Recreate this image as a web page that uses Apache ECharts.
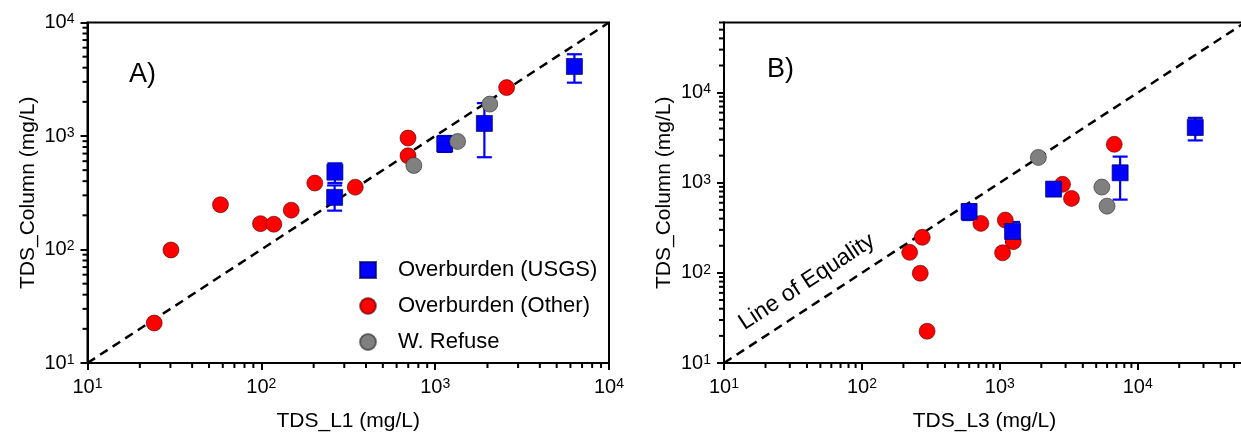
<!DOCTYPE html>
<html>
<head>
<meta charset="utf-8">
<script src="https://cdn.jsdelivr.net/npm/echarts@6/dist/echarts.min.js"></script>
<style>
  html, body { margin: 0; padding: 0; width: 1241px; height: 437px; overflow: hidden; background: #fff; }
  #chart { width: 1250px; height: 437px; }
</style>
</head>
<body>
<div id="chart"></div>
<script>
// TDS of overburden / refuse samples: column leachate vs. first (L1) and third (L3) leach step, mg/L
const seriesNames = ['Overburden (USGS)', 'Overburden (Other)', 'W. Refuse'];

// Overburden (USGS): column value with min / max range
const usgsColumn = [480, 288, 850, 1290, 4100];
const usgsLow    = [386, 220, 724, 650, 2950];
const usgsHigh   = [574, 367, 1000, 1950, 5250];
const usgsL1     = [265, 264, 1135, 1919, 6324];
const usgsL3     = [599, 1238, 2455, 7459, 26150];

// Overburden (Other)
const otherColumn = [22.5, 99, 248, 169, 167, 222, 385, 354, 960, 670, 2670];
const otherL1     = [24.2, 30.2, 58.2, 98.9, 118, 148.6, 203, 347, 698, 698, 2576];
const otherL3     = [297, 265, 274, 222, 1047, 1252, 1096, 729, 2851, 3311, 6761];

// W. Refuse
const refuseColumn = [550, 895, 1910];
const refuseL1     = [754, 1346, 2061];
const refuseL3     = [5995, 5495, 1905];

// Axis ranges and tick values
const rangeA = [10, 10000];
const rangeB = [10, 60000];
const majorTicksA = [10, 100, 1000, 10000];
const majorTicksB = [10, 100, 1000, 10000];
const minorTicksA = [20, 30, 40, 50, 60, 70, 80, 90, 200, 300, 400, 500, 600, 700, 800, 900,
                     2000, 3000, 4000, 5000, 6000, 7000, 8000, 9000];
const minorTicksB = [20, 30, 40, 50, 60, 70, 80, 90, 200, 300, 400, 500, 600, 700, 800, 900,
                     2000, 3000, 4000, 5000, 6000, 7000, 8000, 9000, 20000, 30000, 40000, 50000, 60000];

const FONT = '"Liberation Sans", Arial, sans-serif';
const BLUE = '#0000ff', RED = '#ff0000', GREY = '#808080';

const zip = (xs, ys) => xs.map((x, i) => [x, ys[i]]);
const zip3 = (xs, a, b) => xs.map((x, i) => [x, a[i], b[i]]);

function powLabel(v) {
  const e = Math.log10(v);
  const r = Math.round(e);
  return Math.abs(e - r) < 1e-6 ? '{b|10}{s|' + r + '}' : '';
}
const labelRich = {
  b: { fontSize: 20, fontFamily: FONT, color: '#000', verticalAlign: 'bottom' },
  s: { fontSize: 14, fontFamily: FONT, color: '#000', verticalAlign: 'top' }
};

function mainAxis(grid, range, ticks, isX, name) {
  return {
    type: 'log', gridIndex: grid, min: range[0], max: range[1],
    position: isX ? 'bottom' : 'left',
    name: name, nameLocation: 'middle', nameGap: isX ? 48 : 49,
    nameTextStyle: { fontSize: 21, fontFamily: FONT, color: '#000' },
    axisLine: { show: true, onZero: false, lineStyle: { color: '#000', width: 2 } },
    axisTick: { show: true, inside: false, length: 7, customValues: ticks, lineStyle: { color: '#000', width: 2 } },
    axisLabel: { customValues: ticks, formatter: powLabel, rich: labelRich, margin: isX ? 14 : 13 },
    splitLine: { show: false }, minorTick: { show: false }
  };
}

// Short outward minor ticks at 2..9 of each decade, placed through the axis scales
function minorTickSeries(idx, range, values, onX) {
  return {
    type: 'custom', name: 'minor ticks', xAxisIndex: idx, yAxisIndex: idx, z: 10,
    clip: false, silent: true,
    encode: { x: 0, y: 1 },
    renderItem: function (params, api) {
      const p = api.coord([api.value(0), api.value(1)]);
      const len = 5;
      const shape = onX ? { x1: p[0], y1: p[1], x2: p[0], y2: p[1] + len }
                        : { x1: p[0] - len, y1: p[1], x2: p[0], y2: p[1] };
      return { type: 'line', shape: shape, style: { stroke: '#000', lineWidth: 2, fill: null } };
    },
    data: values.map(v => onX ? [v, range[0]] : [range[0], v])
  };
}

function errorBars(idx, data) {
  return {
    type: 'custom', name: 'USGS range', xAxisIndex: idx, yAxisIndex: idx, z: 2,
    encode: { x: 0, y: [1, 2] }, silent: true,
    renderItem: function (params, api) {
      const lo = api.coord([api.value(0), api.value(1)]);
      const hi = api.coord([api.value(0), api.value(2)]);
      const w = 7.5;
      const st = { stroke: BLUE, lineWidth: 2.2 };
      return {
        type: 'group', children: [
          { type: 'line', shape: { x1: lo[0], y1: lo[1], x2: hi[0], y2: hi[1] }, style: st },
          { type: 'line', shape: { x1: lo[0] - w, y1: lo[1], x2: lo[0] + w, y2: lo[1] }, style: st },
          { type: 'line', shape: { x1: hi[0] - w, y1: hi[1], x2: hi[0] + w, y2: hi[1] }, style: st }
        ]
      };
    },
    data: data
  };
}
function scatter(name, idx, data, symbol, color, border, z) {
  return {
    type: 'scatter', name: name, xAxisIndex: idx, yAxisIndex: idx, z: z,
    symbol: symbol, symbolSize: 16,
    itemStyle: { color: color, borderColor: border, borderWidth: 1, opacity: 1 },
    emphasis: { disabled: true },
    data: data
  };
}
function equality(idx, range) {
  return {
    type: 'line', name: 'equality', xAxisIndex: idx, yAxisIndex: idx, z: 1,
    showSymbol: false, silent: true, animation: false,
    lineStyle: { color: '#000', width: 2.5, type: [9, 6] },
    data: [[range[0], range[0]], [range[1], range[1]]]
  };
}

const chart = echarts.init(document.getElementById('chart'), null, { renderer: 'canvas' });
chart.setOption({
  animation: false,
  backgroundColor: '#fff',
  textStyle: { fontFamily: FONT },
  title: [
    { text: 'A)', left: 129, top: 61, padding: 0, textStyle: { fontSize: 27, fontWeight: 'normal', fontFamily: FONT, color: '#000' } },
    { text: 'B)', left: 767, top: 56, padding: 0, textStyle: { fontSize: 27, fontWeight: 'normal', fontFamily: FONT, color: '#000' } }
  ],
  grid: [
    { left: 87.5, top: 22.5, width: 521.5, height: 348.5, show: true, borderColor: '#000', borderWidth: 2, backgroundColor: 'transparent' },
    { left: 724, top: 22.5, width: 521, height: 348.3, show: true, borderColor: '#000', borderWidth: 2, backgroundColor: 'transparent' }
  ],
  xAxis: [
    mainAxis(0, rangeA, majorTicksA, true, 'TDS_L1 (mg/L)'),
    mainAxis(1, rangeB, majorTicksB, true, 'TDS_L3 (mg/L)')
  ],
  yAxis: [
    mainAxis(0, rangeA, majorTicksA, false, 'TDS_Column (mg/L)'),
    mainAxis(1, rangeB, majorTicksB, false, 'TDS_Column (mg/L)')
  ],
  legend: {
    data: seriesNames.map(n => ({ name: n })),
    orient: 'vertical', left: 354, top: 254,
    itemWidth: 16, itemHeight: 16, itemGap: 14,
    selectedMode: false,
    textStyle: { fontSize: 22, fontFamily: FONT, color: '#000', lineHeight: 22, padding: [0, 0, 0, 17] }
  },
  series: [
    minorTickSeries(0, rangeA, minorTicksA, true),
    minorTickSeries(0, rangeA, minorTicksA, false),
    minorTickSeries(1, rangeB, minorTicksB, true),
    minorTickSeries(1, rangeB, minorTicksB, false),
    equality(0, rangeA),
    equality(1, rangeB),
    scatter(seriesNames[1], 0, zip(otherL1, otherColumn), 'circle', RED, 'rgba(60,0,0,0.55)', 3),
    scatter(seriesNames[1], 1, zip(otherL3, otherColumn), 'circle', RED, 'rgba(60,0,0,0.55)', 3),
    errorBars(0, zip3(usgsL1, usgsLow, usgsHigh)),
    errorBars(1, zip3(usgsL3, usgsLow, usgsHigh)),
    scatter(seriesNames[0], 0, zip(usgsL1, usgsColumn), 'rect', BLUE, 'rgba(0,0,90,0.7)', 4),
    scatter(seriesNames[0], 1, zip(usgsL3, usgsColumn), 'rect', BLUE, 'rgba(0,0,90,0.7)', 4),
    scatter(seriesNames[2], 0, zip(refuseL1, refuseColumn), 'circle', GREY, 'rgba(40,40,40,0.6)', 5),
    scatter(seriesNames[2], 1, zip(refuseL3, refuseColumn), 'circle', GREY, 'rgba(40,40,40,0.6)', 5)
  ]
});

// "Line of Equality" caption laid along the dashed line of panel B
const p0 = chart.convertToPixel({ xAxisIndex: 1, yAxisIndex: 1 }, [rangeB[0], rangeB[0]]);
const p1 = chart.convertToPixel({ xAxisIndex: 1, yAxisIndex: 1 }, [rangeB[1], rangeB[1]]);
const ang = Math.atan2(p0[1] - p1[1], p1[0] - p0[0]);
const ux = Math.cos(ang), uy = -Math.sin(ang);
const nx = -Math.sin(ang), ny = -Math.cos(ang);
const along = 35, off = 11;
chart.setOption({
  graphic: [{
    type: 'text', silent: true,
    x: p0[0] + ux * along + nx * off,
    y: p0[1] + uy * along + ny * off,
    rotation: ang,
    style: { text: 'Line of Equality', fontSize: 23, fontFamily: FONT, fill: '#000', align: 'left', verticalAlign: 'bottom' }
  }]
});
</script>
</body>
</html>
